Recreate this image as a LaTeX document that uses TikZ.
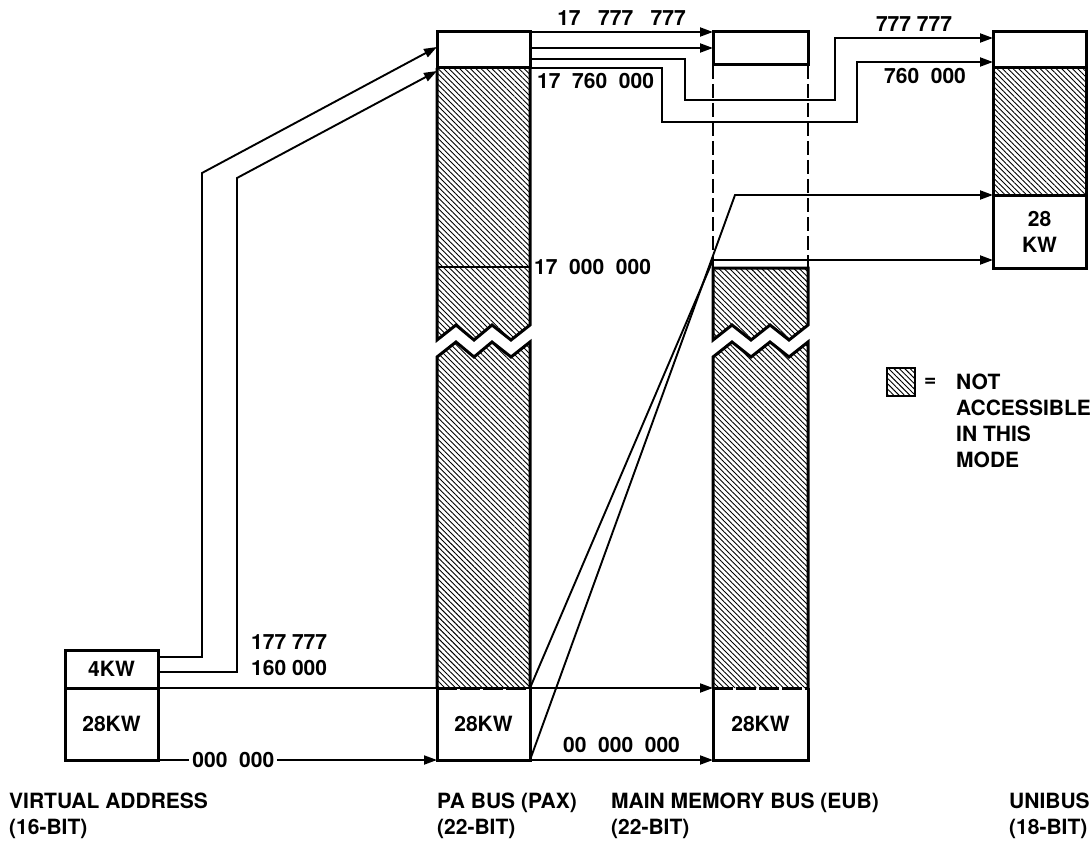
\documentclass[tikz,border=0pt]{standalone}
\usepackage{fontspec}
\setmainfont{TeX Gyre Heros}
\usetikzlibrary{arrows.meta, patterns.meta, calc, positioning}
\newcommand{\diagfont}{\fontsize{21}{26}\selectfont\bfseries}

\begin{document}
\begin{tikzpicture}[
  x=1pt, y=-1pt,
  box/.style   = {draw, line width=3pt, inner sep=0pt, outer sep=0pt,
                  minimum width=93pt, anchor=north west, font=\diagfont},
  hatch/.style = {pattern={Lines[angle=-45, distance=3.8pt, line width=0.9pt]}},
  col/.style   = {line width=3pt, line join=miter},
  arr/.style   = {-{Triangle[length=13pt, width=9pt]}, line width=1.9pt},
  lbl/.style   = {font=\diagfont, inner sep=1pt, align=left}
]
\useasboundingbox (0,0) rectangle (1091,845);

% Virtual address (16-bit)
\node[box, minimum height=38pt] (va4)  at (65,650) {4KW};
\node[box, minimum height=72pt] (va28) at (65,688) {28KW};

% PA bus column
\node[box, minimum height=36pt] (patop) at (437,32) {};
\fill[hatch] (437,68) -- (530,68) -- (530,325) -- (511,340) -- (492,325)
  -- (474,340) -- (456,325) -- (437,340) -- cycle;
\draw[col] (437,68) -- (437,340) -- (456,325) -- (474,340) -- (492,325)
  -- (511,340) -- (530,325) -- (530,68);
\draw[line width=2pt] (437,267) -- (530,267);
\fill[hatch] (437,357) -- (456,342) -- (474,357) -- (492,342) -- (511,357)
  -- (530,342) -- (530,688) -- (437,688) -- cycle;
\draw[col] (437,688) -- (437,357) -- (456,342) -- (474,357) -- (492,342)
  -- (511,357) -- (530,342) -- (530,688);
\node[box, draw=none, minimum height=72pt] (pa28) at (437,688) {28KW};
\draw[col] (pa28.north west) -- (pa28.south west) -- (pa28.south east) -- (pa28.north east);
\draw[col, dash pattern=on 20pt off 3pt] (pa28.north west) -- (pa28.north east);

% Main memory column
\node[box, minimum width=95pt, minimum height=33pt] (mmtop) at (713,32) {};
\draw[line width=2pt, dash pattern=on 14pt off 5pt] (mmtop.south west) -- (713,268);
\draw[line width=2pt, dash pattern=on 14pt off 5pt] (mmtop.south east) -- (808,268);
\fill[hatch] (713,268) -- (808,268) -- (808,325) -- (789,340) -- (770,325)
  -- (751,340) -- (732,325) -- (713,340) -- cycle;
\draw[col] (713,340) -- (713,268) -- (808,268) -- (808,325) -- (789,340)
  -- (770,325) -- (751,340) -- (732,325) -- cycle;
\fill[hatch] (713,357) -- (732,342) -- (751,357) -- (770,342) -- (789,357)
  -- (808,342) -- (808,688) -- (713,688) -- cycle;
\draw[col] (713,688) -- (713,357) -- (732,342) -- (751,357) -- (770,342)
  -- (789,357) -- (808,342) -- (808,688);
\node[box, draw=none, minimum width=95pt, minimum height=72pt] (mm28) at (713,688) {28KW};
\draw[col] (mm28.north west) -- (mm28.south west) -- (mm28.south east) -- (mm28.north east);
\draw[col, dash pattern=on 20pt off 3pt] (mm28.north west) -- (mm28.north east);

% Unibus column
\node[box, minimum height=36pt] (ubtop) at (993,32) {};
\node[box, hatch, minimum height=127pt] (ubhatch) at (993,68) {};
\node[box, minimum height=73pt, align=center] (ub28) at (993,195) {28\\KW};

% Legend
\node[box, hatch, minimum width=28pt, minimum height=28pt, line width=2.4pt] (key) at (887,368) {};
\node[lbl, right=8pt of key] (keyeq) {=};
\node[lbl, anchor=north west] (keytxt) at (955,373) {NOT\\ACCESSIBLE\\IN THIS\\MODE};

% Virtual address to PA bus
\draw[arr] ($(va4.north east)+(0,7)$) -| (202,173) -- ($(patop.north west)+(0,15)$);
\draw[arr] ($(va4.north east)+(0,22)$) -| (237,178) -- ($(patop.south west)+(0,3)$);
\node[lbl, anchor=north west] (lblva) at (250,633) {177~777\\160~000};
\draw[arr] (va4.south east) -- (mm28.north west);
\draw[arr] (va28.south east) -- node[pos=0.27, fill=white, inner sep=3pt, font=\diagfont] (lblzero) {000~~000} (pa28.south west);

% PA bus to main memory and Unibus
\draw[arr] (pa28.south east) -- node[above=3pt, font=\diagfont] (lblmm) {00~~000~~000} (mm28.south west);
\draw[arr] (pa28.north east) -- (713,260) -- ($(ub28.south west)+(0,-8)$);
\draw[arr] (pa28.south east) -- (735,195) -- (ub28.north west);
\node[lbl, anchor=west] (lbl17m) at (533,267) {17~~000~~000};

\draw[arr] (patop.north east) -- node[above=2pt, font=\diagfont] (lbltop) {17~~~777~~~777} (mmtop.north west);
\draw[arr] ($(patop.north east)+(0,16)$) -- ($(mmtop.north west)+(0,16)$);
\draw[arr] ($(patop.north east)+(0,27)$) -| (685,100) -| (835,38)
  -- node[above=2pt, font=\diagfont] (lblub1) {777~777} ($(ubtop.north west)+(0,6)$);
\draw[arr] (patop.south east) -| (662,122) -| (857,62)
  -- node[below=2pt, font=\diagfont] (lblub2) {760~~000} ($(ubtop.south west)+(0,-6)$);
\node[lbl, anchor=north west] (lbl1776) at ($(patop.south east)+(6,4)$) {17~~760~~000};

% Bus names
\node[lbl, anchor=north west] (nva) at (8,792) {VIRTUAL ADDRESS\\(16-BIT)};
\node[lbl, anchor=north west] (npa) at (436,792) {PA BUS (PAX)\\(22-BIT)};
\node[lbl, anchor=north west] (nmm) at (610,792) {MAIN MEMORY BUS (EUB)\\(22-BIT)};
\node[lbl, anchor=north west] (nub) at (1008,792) {UNIBUS\\(18-BIT)};
\end{tikzpicture}
\end{document}
